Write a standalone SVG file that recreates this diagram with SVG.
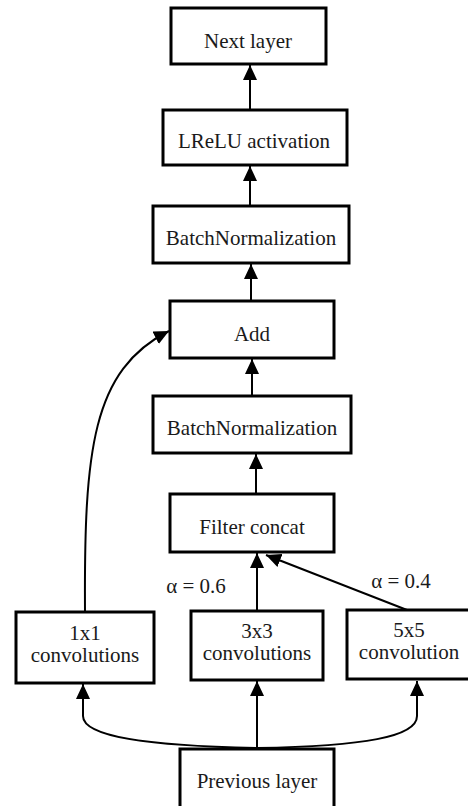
<svg xmlns="http://www.w3.org/2000/svg" width="468" height="806" viewBox="0 0 468 806">
<style>
.box{fill:#fff;stroke:#000;stroke-width:3}
.t{font-family:"Liberation Serif","Times New Roman",serif;font-size:21px;fill:#1a1a1a;text-anchor:middle}
.c{fill:none;stroke:#000;stroke-width:2}
</style>
<defs>
<marker id="ah" markerUnits="userSpaceOnUse" markerWidth="16" markerHeight="14" refX="15" refY="7" orient="auto">
<path d="M0,0 L15,7 L0,14 z" fill="#000"/>
</marker>
</defs>
<rect width="468" height="806" fill="#fff"/>
<g id="connectors">
<line class="c" x1="250" y1="110" x2="250" y2="65" marker-end="url(#ah)"/>
<line class="c" x1="250" y1="206" x2="250" y2="166" marker-end="url(#ah)"/>
<line class="c" x1="251" y1="301" x2="251" y2="264" marker-end="url(#ah)"/>
<line class="c" x1="252" y1="396" x2="252" y2="359" marker-end="url(#ah)"/>
<line class="c" x1="256" y1="494" x2="256" y2="454" marker-end="url(#ah)"/>
<line class="c" x1="257" y1="611" x2="257" y2="553" marker-end="url(#ah)"/>
<line class="c" x1="407" y1="610" x2="266" y2="555" marker-end="url(#ah)"/>
<line class="c" x1="257" y1="749" x2="257" y2="681" marker-end="url(#ah)"/>
<path class="c" d="M257,748 C150,746 83,737 83,716 L83,684" marker-end="url(#ah)"/>
<path class="c" d="M257,748 C364,746 417,737 417,716 L417,681" marker-end="url(#ah)"/>
<path class="c" d="M85,612 C84,450 92,370 169,331" marker-end="url(#ah)"/>
</g>
<g id="next-layer"><rect class="box" x="171" y="8" width="155" height="56"/><text class="t" x="248" y="48">Next layer</text></g>
<g id="lrelu"><rect class="box" x="163" y="110" width="184" height="55"/><text class="t" x="254" y="148">LReLU activation</text></g>
<g id="bn1"><rect class="box" x="153" y="206" width="196" height="57"/><text class="t" x="251" y="245">BatchNormalization</text></g>
<g id="add"><rect class="box" x="170" y="301" width="164" height="57"/><text class="t" x="252" y="341">Add</text></g>
<g id="bn2"><rect class="box" x="153" y="396" width="198" height="57"/><text class="t" x="252" y="435">BatchNormalization</text></g>
<g id="filter-concat"><rect class="box" x="170" y="494" width="164" height="58"/><text class="t" x="252" y="534">Filter concat</text></g>
<g id="conv1x1"><rect class="box" x="16" y="612" width="138" height="71"/><text class="t" x="85" y="640">1x1</text><text class="t" x="85" y="662">convolutions</text></g>
<g id="conv3x3"><rect class="box" x="191" y="611" width="132" height="69"/><text class="t" x="257" y="638">3x3</text><text class="t" x="257" y="660">convolutions</text></g>
<g id="conv5x5"><rect class="box" x="347" y="610" width="124" height="69"/><text class="t" x="409" y="637">5x5</text><text class="t" x="409" y="659">convolution</text></g>
<g id="previous-layer"><rect class="box" x="180" y="749" width="154" height="62"/><text class="t" x="257" y="788">Previous layer</text></g>
<g id="labels"><text class="t" x="196" y="593">α = 0.6</text><text class="t" x="401" y="588">α = 0.4</text></g>
</svg>
